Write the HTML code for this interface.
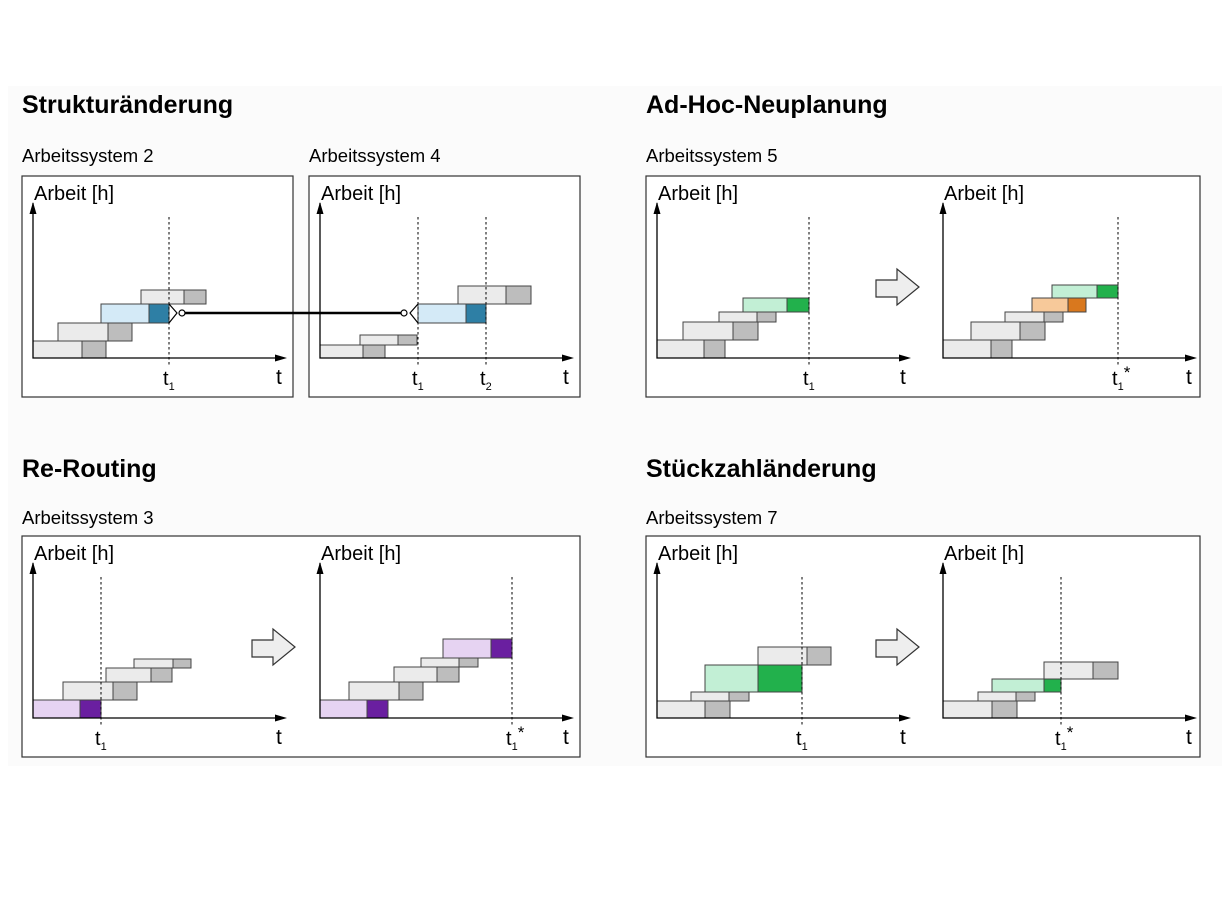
<!DOCTYPE html>
<html><head><meta charset="utf-8"><style>
body{margin:0;background:#fff}
svg{display:block;font-family:"Liberation Sans",sans-serif}
</style></head><body>
<svg id="s" width="1222" height="916" viewBox="0 0 1222 916" xmlns="http://www.w3.org/2000/svg">
<rect x="8" y="86" width="1214" height="680" fill="#fbfbfb"/>
<g font-weight="bold" font-size="25" fill="#000">
<text x="22" y="113">Strukturänderung</text>
<text x="646" y="113">Ad-Hoc-Neuplanung</text>
<text x="22" y="477">Re-Routing</text>
<text x="646" y="477">Stückzahländerung</text>
</g>
<g font-size="18.5" fill="#000">
<text x="22" y="162">Arbeitssystem 2</text>
<text x="309" y="162">Arbeitssystem 4</text>
<text x="646" y="162">Arbeitssystem 5</text>
<text x="22" y="524">Arbeitssystem 3</text>
<text x="646" y="524">Arbeitssystem 7</text>
</g>
<g fill="#fff" stroke="#333" stroke-width="1.2">
<rect x="22" y="176" width="271" height="221"/>
<rect x="309" y="176" width="271" height="221"/>
<rect x="646" y="176" width="554" height="221"/>
<rect x="22" y="536" width="558" height="221"/>
<rect x="646" y="536" width="554" height="221"/>
</g>
<g id="charts"></g>
<g fill="#eee" stroke="#333" stroke-width="1.2">
<path d="M876 280H897V269L919 287L897 305V297H876Z"/>
<path d="M252 640H273V629L295 647L273 665V657H252Z"/>
<path d="M876 640H897V629L919 647L897 665V657H876Z"/>
</g>
<g stroke="#000" fill="none">
<path d="M169 304L177 313L169 323" stroke-width="1.2"/>
<line x1="185" y1="313" x2="401" y2="313" stroke-width="2.5"/>
<circle cx="182" cy="313" r="3" fill="#fff" stroke-width="1.2"/>
<circle cx="404" cy="313" r="3" fill="#fff" stroke-width="1.2"/>
<path d="M418 304L410 313L418 323" stroke-width="1.2"/>
</g>
</svg>
<script>
const C={g:['#ebebeb','#bdbdbd'],b:['#d4eaf7','#2e7fa5'],gr:['#c2efd5','#22b14c'],o:['#f7c99a','#d9781e'],p:['#e6d3f2','#6a1fa0']};
const originsX=[33,320,657,943,33,320,657,943];
const originsY=[358,358,358,358,718,718,718,718];
const markers=[[136],[98,166],[152],[175],[68],[192],[145],[118]];
const markerLabels=[['1',''],['1','2'],['1',''],['1','*'],['1',''],['1','*'],['1',''],['1','*']];
const bars0=[[0,49,73,0,17,'g'],[25,75,99,17,35,'g'],[68,116,136,35,54,'b'],[108,151,173,54,68,'g']];
const bars1=[[0,43,65,0,13,'g'],[40,78,97,13,23,'g'],[98,146,166,35,54,'b'],[138,186,211,54,72,'g']];
const bars2=[[0,47,68,0,18,'g'],[26,76,101,18,36,'g'],[62,100,119,36,46,'g'],[86,130,152,46,60,'gr']];
const bars3=[[0,48,69,0,18,'g'],[28,77,102,18,36,'g'],[62,101,120,36,46,'g'],[89,125,143,46,60,'o'],[109,154,175,60,73,'gr']];
const bars4=[[0,47,68,0,18,'p'],[30,80,104,18,36,'g'],[73,118,139,36,50,'g'],[101,140,158,50,59,'g']];
const bars5=[[0,47,68,0,18,'p'],[29,79,103,18,36,'g'],[74,117,139,36,51,'g'],[101,139,158,51,60,'g'],[123,171,192,60,79,'p']];
const bars6=[[0,48,73,0,17,'g'],[34,72,92,17,26,'g'],[48,101,145,26,53,'gr'],[101,150,174,53,71,'g']];
const bars7=[[0,49,74,0,17,'g'],[35,73,92,17,26,'g'],[49,101,118,26,39,'gr'],[101,150,175,39,56,'g']];
const allBars=[bars0,bars1,bars2,bars3,bars4,bars5,bars6,bars7];
const NS='http://www.w3.org/2000/svg',root=document.getElementById('charts');
function mk(tag,at,par){const e=document.createElementNS(NS,tag);for(const k in at)e.setAttribute(k,at[k]);(par||root).appendChild(e);return e;}
allBars.forEach((bars,i)=>{
 const ox=originsX[i],oy=originsY[i];
 const X=t=>ox+t,Y=w=>oy-w;
 const g=mk('g',{});
 
 
 bars.forEach((b,j)=>{
  const c=C[b[5]];
  const r1=mk('rect',{x:X(b[0]),y:Y(b[4]),width:X(b[1])-X(b[0]),height:Y(b[3])-Y(b[4]),fill:c[0],stroke:'#444','stroke-width':1},g);
  
  
  const r2=mk('rect',{x:X(b[1]),y:Y(b[4]),width:X(b[2])-X(b[1]),height:Y(b[3])-Y(b[4]),fill:c[1],stroke:'#444','stroke-width':1},g);
  
  
 });
 markers[i].forEach((m,k)=>{
  const l=mk('line',{x1:X(m),x2:X(m),y1:Y(141),y2:oy+8,stroke:'#000','stroke-width':1,'stroke-dasharray':'2.5,2.5'},g);
  
  
  const t=mk('text',{x:X(m)-6,y:oy+27,'font-size':20},g);
  
  
  t.textContent='t';
  const lb=markerLabels[i][k]==='*'?'1':markerLabels[i][k];
  const s=mk('tspan',{'font-size':11,dy:5},t);s.textContent=lb;
  if(markerLabels[i][1]==='*'){const s2=mk('tspan',{'font-size':17,dy:-12},t);s2.textContent='*';}
 });
 const ax=mk('path',{d:`M${ox} ${oy-155}V${oy}H${ox+245}`,stroke:'#000','stroke-width':1.3,fill:'none'},g);
 
 
 const ah=mk('path',{d:`M${ox-3.5} ${oy-144}L${ox} ${oy-156}L${ox+3.5} ${oy-144}Z M${ox+242} ${oy-3.5}L${ox+254} ${oy}L${ox+242} ${oy+3.5}Z`,fill:'#000'},g);
 
 
 const yl=mk('text',{x:ox+1,y:oy-158,'font-size':20},g);
 
 
 yl.textContent='Arbeit [h]';
 const xl=mk('text',{x:ox+243,y:oy+26,'font-size':21},g);
 
 
 xl.textContent='t';
});
</script>
</body></html>
